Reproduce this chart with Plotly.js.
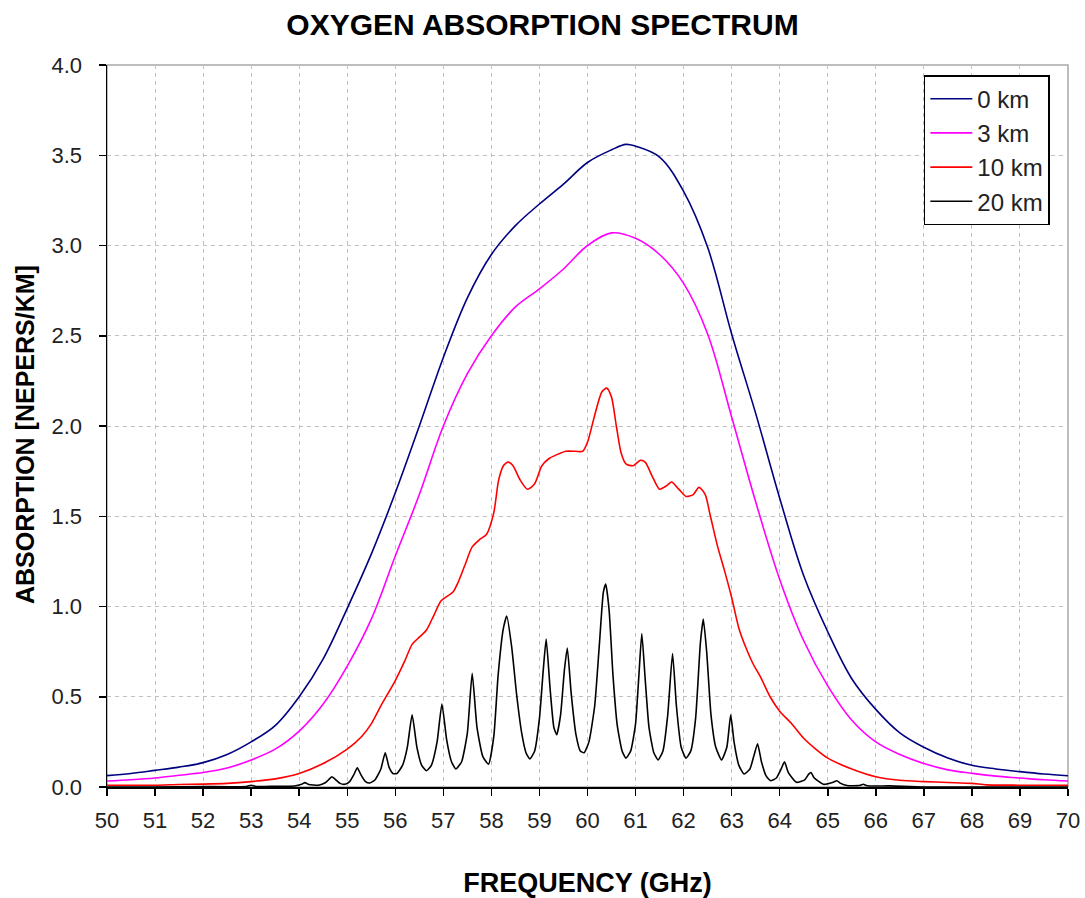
<!DOCTYPE html>
<html>
<head>
<meta charset="utf-8">
<script src="https://cdn.plot.ly/plotly-3.0.1.min.js"></script>
<style>
  html, body { margin: 0; padding: 0; background: #ffffff; }
  #chart { width: 1085px; height: 898px; }
</style>
</head>
<body>
<div id="chart"></div>
<script>
// ---- Data ----
const seriesNames = ["0 km", "3 km", "10 km", "20 km"];

const freq0km = [50, 50.5, 51, 51.5, 52, 52.5, 53, 53.5, 54, 54.5, 55, 55.5, 56, 56.5, 57, 57.5, 58, 58.5, 59, 59.5, 60, 60.5, 60.8, 61, 61.5, 62, 62.5, 63, 63.5, 64, 64.5, 65, 65.5, 66, 66.5, 67, 67.5, 68, 68.5, 69, 69.5, 70];
const abs0km  = [0.063, 0.075, 0.092, 0.11, 0.135, 0.18, 0.25, 0.34, 0.50, 0.71, 0.99, 1.29, 1.63, 2.00, 2.38, 2.71, 2.95, 3.11, 3.23, 3.34, 3.46, 3.53, 3.56, 3.55, 3.49, 3.30, 2.99, 2.51, 2.07, 1.60, 1.17, 0.86, 0.60, 0.43, 0.30, 0.22, 0.16, 0.12, 0.10, 0.085, 0.072, 0.062];

const freq3km = [50, 50.5, 51, 51.5, 52, 52.5, 53, 53.5, 54, 54.5, 55, 55.5, 56, 56.5, 57, 57.5, 58, 58.5, 59, 59.5, 60, 60.5, 61, 61.5, 62, 62.5, 63, 63.5, 64, 64.5, 65, 65.5, 66, 66.5, 67, 67.5, 68, 68.5, 69, 69.5, 70];
const abs3km  = [0.033, 0.04, 0.05, 0.065, 0.08, 0.105, 0.15, 0.21, 0.31, 0.46, 0.67, 0.93, 1.28, 1.62, 2.00, 2.29, 2.50, 2.66, 2.76, 2.87, 3.00, 3.07, 3.04, 2.95, 2.79, 2.51, 2.05, 1.58, 1.15, 0.81, 0.56, 0.37, 0.25, 0.18, 0.13, 0.095, 0.076, 0.06, 0.05, 0.04, 0.033];

const freq10km = [50, 51, 51.5, 52, 52.5, 53, 53.5, 54, 54.5, 55, 55.3, 55.5, 55.7, 56.0, 56.2, 56.35, 56.5, 56.65, 56.8, 56.95, 57.1, 57.2, 57.3, 57.45, 57.6, 57.75, 57.9, 58.05, 58.15, 58.25, 58.35, 58.45, 58.6, 58.75, 58.9, 59.05, 59.2, 59.35, 59.55, 59.75, 59.9, 60.0, 60.15, 60.3, 60.4, 60.5, 60.6, 60.7, 60.8, 60.95, 61.1, 61.2, 61.35, 61.5, 61.65, 61.75, 61.9, 62.05, 62.2, 62.32, 62.45, 62.55, 62.7, 62.85, 63.0, 63.15, 63.3, 63.45, 63.6, 63.8, 64.0, 64.25, 64.5, 64.75, 65.0, 65.5, 66.0, 66.5, 67, 67.5, 68, 68.3, 69, 70];
const abs10km  = [0.01, 0.01, 0.014, 0.016, 0.02, 0.03, 0.045, 0.075, 0.13, 0.21, 0.28, 0.35, 0.45, 0.59, 0.70, 0.79, 0.83, 0.87, 0.95, 1.03, 1.06, 1.08, 1.13, 1.23, 1.33, 1.37, 1.40, 1.52, 1.70, 1.78, 1.80, 1.78, 1.70, 1.65, 1.68, 1.78, 1.82, 1.84, 1.86, 1.86, 1.86, 1.91, 2.06, 2.19, 2.21, 2.16, 2.00, 1.85, 1.79, 1.78, 1.81, 1.80, 1.72, 1.65, 1.67, 1.69, 1.65, 1.61, 1.62, 1.66, 1.62, 1.51, 1.34, 1.20, 1.05, 0.88, 0.77, 0.68, 0.61, 0.50, 0.42, 0.35, 0.27, 0.21, 0.16, 0.10, 0.057, 0.037, 0.03, 0.025, 0.02, 0.012, 0.01, 0.01];

const freq20km = [50, 51, 52, 52.9, 53.0, 53.1, 53.5, 53.9, 54.05, 54.12, 54.2, 54.4, 54.55, 54.63, 54.68, 54.74, 54.85, 54.95, 55.05, 55.14, 55.21, 55.28, 55.38, 55.47, 55.58, 55.7, 55.79, 55.87, 55.95, 56.03, 56.15, 56.25, 56.35, 56.45, 56.55, 56.65, 56.75, 56.87, 56.97, 57.07, 57.17, 57.26, 57.38, 57.5, 57.6, 57.7, 57.82, 57.94, 58.05, 58.14, 58.25, 58.32, 58.42, 58.53, 58.63, 58.72, 58.8, 58.9, 59.0, 59.08, 59.14, 59.22, 59.3, 59.36, 59.44, 59.52, 59.58, 59.66, 59.76, 59.85, 59.93, 60.03, 60.15, 60.25, 60.33, 60.38, 60.45, 60.53, 60.62, 60.72, 60.8, 60.9, 61.0, 61.07, 61.13, 61.2, 61.28, 61.38, 61.47, 61.57, 61.67, 61.77, 61.85, 61.95, 62.05, 62.15, 62.25, 62.35, 62.41, 62.48, 62.57, 62.67, 62.79, 62.9, 62.98, 63.05, 63.15, 63.26, 63.38, 63.47, 63.54, 63.62, 63.72, 63.81, 63.93, 64.03, 64.1, 64.18, 64.35, 64.52, 64.6, 64.65, 64.72, 64.91, 65.1, 65.19, 65.27, 65.4, 65.65, 65.74, 65.82, 66.3, 67, 70];
const abs20km  = [0.0, 0.0, 0.002, 0.003, 0.01, 0.003, 0.004, 0.006, 0.015, 0.024, 0.014, 0.01, 0.025, 0.045, 0.057, 0.045, 0.02, 0.015, 0.03, 0.07, 0.107, 0.07, 0.03, 0.022, 0.04, 0.10, 0.19, 0.11, 0.075, 0.074, 0.12, 0.22, 0.40, 0.22, 0.12, 0.09, 0.12, 0.25, 0.46, 0.26, 0.14, 0.10, 0.14, 0.30, 0.63, 0.33, 0.17, 0.126, 0.28, 0.62, 0.88, 0.947, 0.78, 0.50, 0.30, 0.19, 0.155, 0.20, 0.38, 0.65, 0.82, 0.55, 0.33, 0.29, 0.40, 0.65, 0.77, 0.52, 0.29, 0.20, 0.19, 0.25, 0.45, 0.80, 1.08, 1.125, 0.98, 0.62, 0.34, 0.20, 0.16, 0.20, 0.35, 0.62, 0.85, 0.60, 0.33, 0.19, 0.15, 0.20, 0.40, 0.74, 0.45, 0.22, 0.16, 0.20, 0.38, 0.80, 0.93, 0.75, 0.40, 0.22, 0.15, 0.22, 0.40, 0.25, 0.12, 0.072, 0.10, 0.18, 0.24, 0.14, 0.06, 0.035, 0.05, 0.10, 0.14, 0.08, 0.026, 0.04, 0.07, 0.08, 0.05, 0.015, 0.025, 0.035, 0.02, 0.008, 0.008, 0.015, 0.007, 0.006, 0.0, 0.0];

const xTickVals = [50, 51, 52, 53, 54, 55, 56, 57, 58, 59, 60, 61, 62, 63, 64, 65, 66, 67, 68, 69, 70];
const yTickVals = [0, 0.5, 1.0, 1.5, 2.0, 2.5, 3.0, 3.5, 4.0];

const chartTitle = "OXYGEN ABSORPTION SPECTRUM";
const xTitle = "FREQUENCY (GHz)";
const yTitle = "ABSORPTION [NEPERS/KM]";

// ---- Traces ----
const colors = ["#000080", "#ff00ff", "#ff0000", "#000000"];
const xs = [freq0km, freq3km, freq10km, freq20km];
const ys = [abs0km, abs3km, abs10km, abs20km];
const smooth = [1.0, 1.0, 0.7, 0.5];

const traces = seriesNames.map((name, i) => ({
  type: "scatter",
  mode: "lines",
  name: name,
  x: xs[i],
  y: ys[i],
  line: { color: colors[i], width: 1.6, shape: "spline", smoothing: smooth[i] }
}));

const fontFam = "Liberation Sans, Arial, Helvetica, sans-serif";

const layout = {
  width: 1085,
  height: 898,
  paper_bgcolor: "#ffffff",
  plot_bgcolor: "#ffffff",
  margin: { l: 107, r: 17, t: 65, b: 111 },
  font: { family: fontFam, color: "#222222", size: 22 },
  title: {
    text: "<b>" + chartTitle + "</b>",
    font: { family: fontFam, size: 30, color: "#000000" },
    x: 0.5, xref: "container", xanchor: "center",
    y: 0.973, yref: "container", yanchor: "middle"
  },
  showlegend: true,
  legend: {
    x: 0.85, xref: "paper", xanchor: "left",
    y: 0.986, yref: "paper", yanchor: "top",
    bgcolor: "#ffffff",
    bordercolor: "#000000",
    borderwidth: 1.5,
    font: { family: fontFam, size: 24, color: "#222222" },
    tracegroupgap: 0,
    itemwidth: 42
  },
  xaxis: {
    range: [50, 70],
    tickmode: "array",
    tickvals: xTickVals,
    ticktext: xTickVals.map(v => String(v)),
    ticks: "outside",
    ticklen: 7,
    tickwidth: 1.5,
    tickcolor: "#000000",
    showline: true,
    linecolor: "#000000",
    linewidth: 1.5,
    showgrid: true,
    gridcolor: "#c0c0c0",
    griddash: "4px,4px",
    gridwidth: 1,
    zeroline: false,
    tickfont: { family: fontFam, size: 22, color: "#222222" },
    ticklabelstandoff: 6,
    title: {
      text: "<b>" + xTitle + "</b>",
      font: { family: fontFam, size: 27, color: "#000000" },
      standoff: 42
    },
    automargin: false
  },
  yaxis: {
    range: [0, 4],
    tickmode: "array",
    tickvals: yTickVals,
    ticktext: yTickVals.map(v => v.toFixed(1)),
    ticks: "outside",
    ticklen: 7,
    tickwidth: 1.5,
    tickcolor: "#000000",
    showline: true,
    linecolor: "#000000",
    linewidth: 1.5,
    showgrid: true,
    gridcolor: "#c0c0c0",
    griddash: "4px,4px",
    gridwidth: 1,
    zeroline: false,
    tickfont: { family: fontFam, size: 22, color: "#222222" },
    ticklabelstandoff: 12,
    automargin: false
  },
  annotations: [{
    text: "<b>" + yTitle + "</b>",
    textangle: -90,
    xref: "paper", yref: "paper",
    x: -82 / 961, y: (787 - 435) / 722,
    xanchor: "center", yanchor: "middle",
    showarrow: false,
    font: { family: fontFam, size: 25, color: "#000000" }
  }],
  shapes: [{
    type: "rect", xref: "paper", yref: "paper",
    x0: 0, x1: 1, y0: 0, y1: 1,
    line: { color: "#a8a8a8", width: 1.5 },
    fillcolor: "rgba(0,0,0,0)",
    layer: "below"
  }]
};

Plotly.newPlot("chart", traces, layout, { displayModeBar: false, staticPlot: true });
</script>
</body>
</html>
